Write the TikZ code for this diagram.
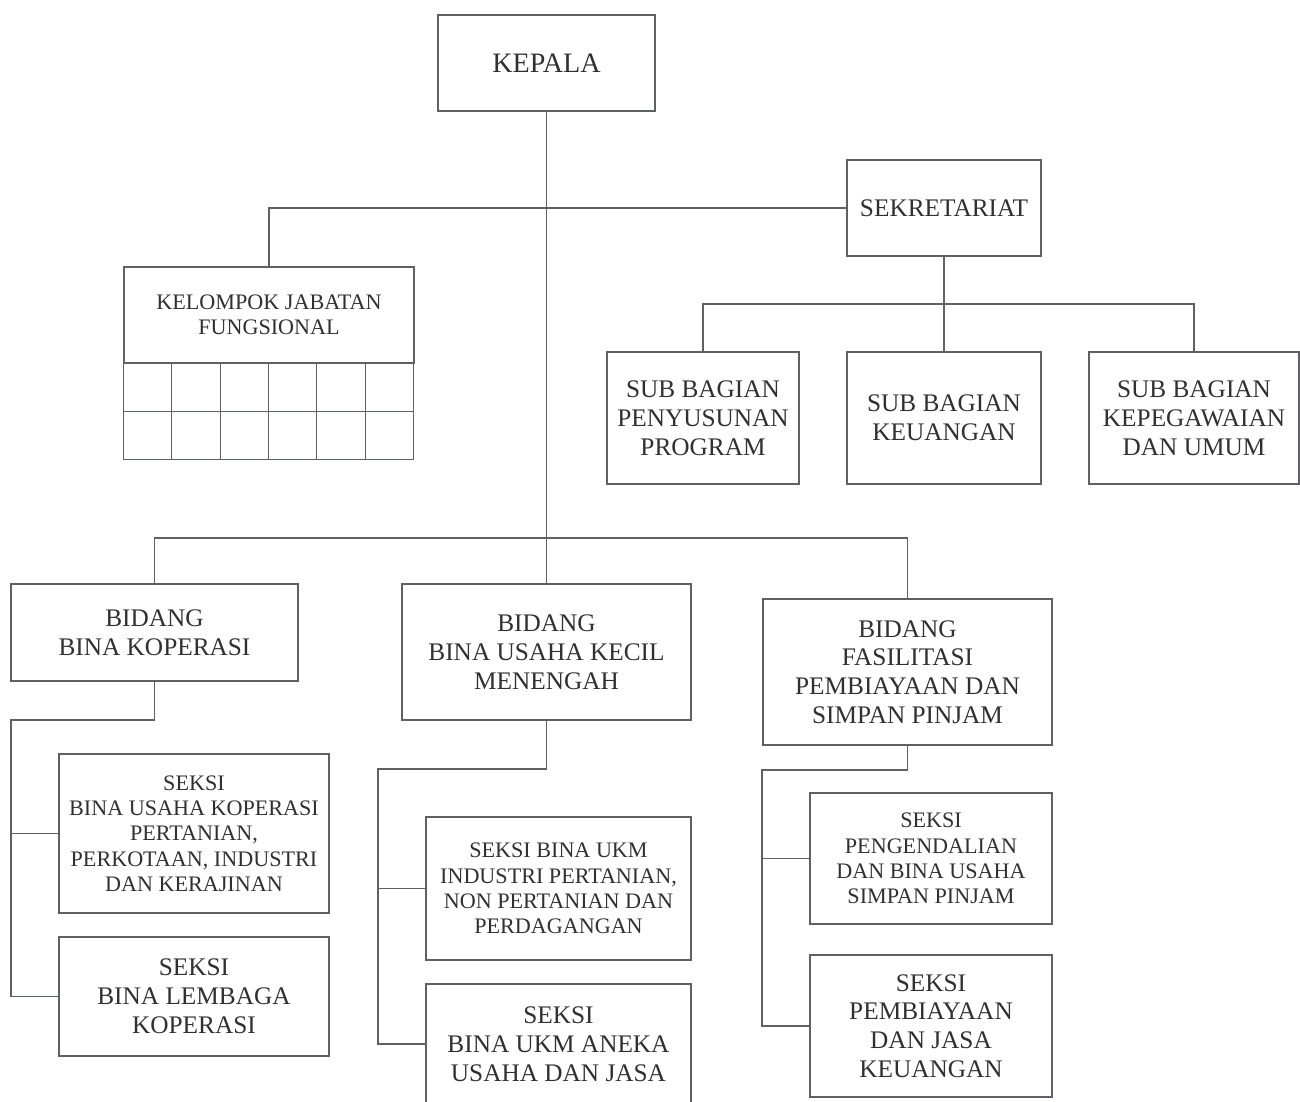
\documentclass[tikz,border=0pt]{standalone}
\usepackage{fontspec}
\setmainfont{Liberation Serif}
\usetikzlibrary{calc}
\definecolor{linegray}{HTML}{5E6266}
\definecolor{textgray}{HTML}{303030}

\begin{document}
\begin{tikzpicture}[x=0.02cm,y=-0.02cm,line width=0.6pt,draw=linegray,
    boxsize/.style 2 args={minimum width=#1*0.02cm,minimum height=#2*0.02cm},
    unit/.style={draw=linegray,text=textgray,align=center,inner sep=0pt,font=\fontsize{14.4}{16.4}\selectfont},
    seksi/.style={unit,font=\fontsize{12.6}{14.4}\selectfont}]
        \useasboundingbox (0,0) rectangle (1300,1101);

        \node[unit,boxsize={217}{96},font=\fontsize{16}{18}\selectfont] (kepala) at (546.5,63) {KEPALA};
        \node[unit,boxsize={194}{96}] (sekre) at (944,208) {SEKRETARIAT};
        \node[seksi,boxsize={290}{96}] (kelompok) at (269,315) {KELOMPOK JABATAN\\FUNGSIONAL};

        \node[unit,boxsize={192}{132}] (sbprog) at (703,418) {SUB BAGIAN\\PENYUSUNAN\\PROGRAM};
        \node[unit,boxsize={194}{132}] (sbkeu) at (944,418) {SUB BAGIAN\\KEUANGAN};
        \node[unit,boxsize={210}{132}] (sbpeg) at (1194,418) {SUB BAGIAN\\KEPEGAWAIAN\\DAN UMUM};

        \node[unit,boxsize={287}{97}] (bk) at (154.5,632.5) {BIDANG\\BINA KOPERASI};
        \node[unit,boxsize={289}{136}] (bukm) at (546.5,652) {BIDANG\\BINA USAHA KECIL\\MENENGAH};
        \node[unit,boxsize={289}{146}] (bf) at (907.5,672) {BIDANG\\FASILITASI\\PEMBIAYAAN DAN\\SIMPAN PINJAM};

        \node[seksi,boxsize={270}{159}] (skop) at (194,833.5) {SEKSI\\BINA USAHA KOPERASI\\PERTANIAN,\\PERKOTAAN, INDUSTRI\\DAN KERAJINAN};
        \node[unit,boxsize={270}{119}] (slemb) at (194,996.5) {SEKSI\\BINA LEMBAGA\\KOPERASI};

        \node[seksi,boxsize={265}{143}] (sind) at (558.5,888.5) {SEKSI BINA UKM\\INDUSTRI PERTANIAN,\\NON PERTANIAN DAN\\PERDAGANGAN};
        \node[unit,boxsize={265}{120}] (saneka) at (558.5,1044) {SEKSI\\BINA UKM ANEKA\\USAHA DAN JASA};

        \node[seksi,boxsize={242}{131}] (sspin) at (931,858.5) {SEKSI\\PENGENDALIAN\\DAN BINA USAHA\\SIMPAN PINJAM};
        \node[unit,boxsize={242}{142}] (sjasa) at (931,1026) {SEKSI\\PEMBIAYAAN\\DAN JASA\\KEUANGAN};

        % grid under kelompok jabatan fungsional
        \foreach \i in {0,...,6}
            \draw ($(kelompok.south west)+(\i*48.33,0)$) -- ++(0,96);
        \draw ($(kelompok.south west)+(0,48)$) -- ++(290,0);
        \draw ($(kelompok.south west)+(0,96)$) -- ++(290,0);

        \coordinate (bidbus) at (546.5,538);
        \coordinate (subbus) at (944,304);
        \coordinate (bkturn) at (11,720);
        \coordinate (bukmturn) at (378,769);
        \coordinate (bfturn) at (762,770);

        \draw (kepala) -- (bukm);
        \draw (sekre.west) -| (kelompok.north);
        \draw (sekre) -- (sbkeu);
        \draw (sbprog.north) |- (subbus) -| (sbpeg.north);
        \draw (bk.north) |- (bidbus) -| (bf.north);

        \draw (bk.south) |- (bkturn) |- (slemb.west);
        \draw (bkturn |- skop.west) -- (skop.west);

        \draw (bukm.south) |- (bukmturn) |- (saneka.west);
        \draw (bukmturn |- sind.west) -- (sind.west);

        \draw (bf.south) |- (bfturn) |- (sjasa.west);
        \draw (bfturn |- sspin.west) -- (sspin.west);
      \end{tikzpicture}
\end{document}
